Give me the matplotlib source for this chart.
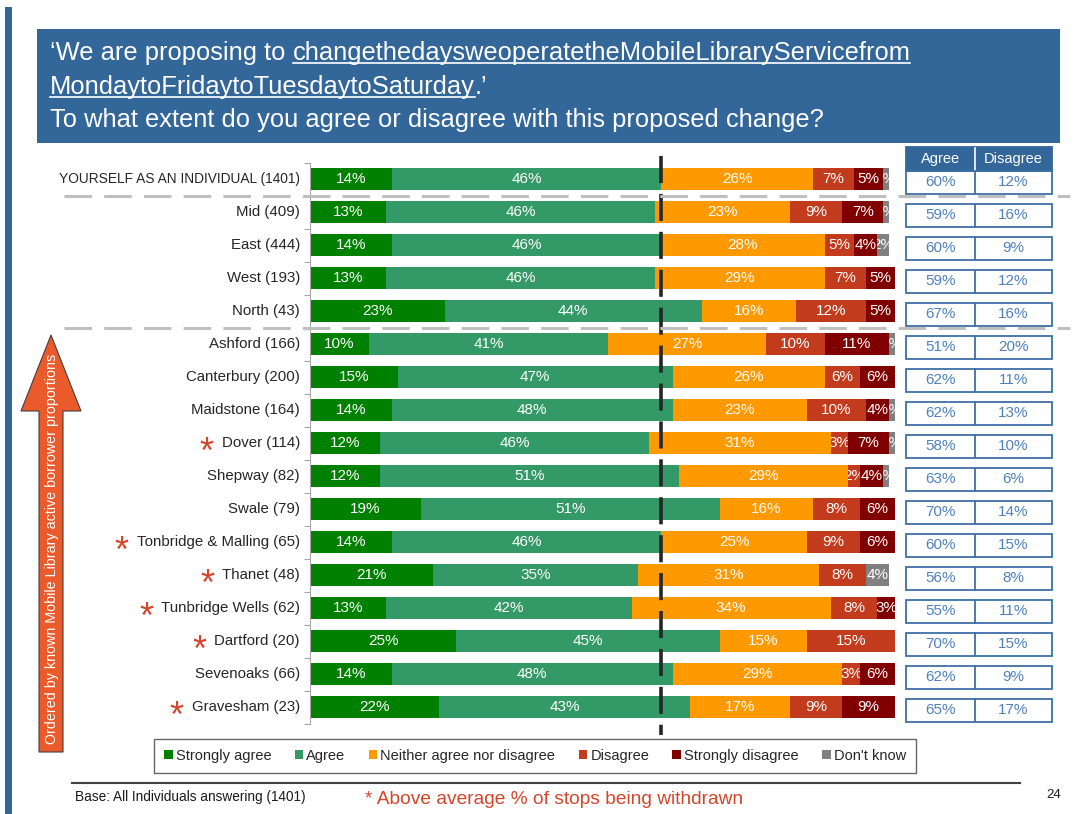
import matplotlib
matplotlib.use("Agg")
import matplotlib.pyplot as plt
import numpy as np
from matplotlib.lines import Line2D
from matplotlib.patches import Patch, Polygon, Rectangle
from matplotlib.transforms import Bbox, IdentityTransform, TransformedBbox

plt.rcParams["font.family"] = ["Liberation Sans", "DejaVu Sans"]

W, H = 1078, 814
BLUE = "#336699"; INK = "#262626"; STAR_RED = "#d4452a"; TABLE_TXT = "#4f81bd"
SERIES_COLORS = ["#008000", "#339966", "#ff9900", "#c23b1d", "#800000", "#808080"]
SERIES_NAMES = ["Strongly agree", "Agree", "Neither agree nor disagree",
                "Disagree", "Strongly disagree", "Don't know"]

# Survey responses (%), top row first.
categories = ["YOURSELF AS AN INDIVIDUAL (1401)", "Mid (409)", "East (444)", "West (193)",
              "North (43)", "Ashford (166)", "Canterbury (200)", "Maidstone (164)",
              "Dover (114)", "Shepway (82)", "Swale (79)", "Tonbridge & Malling (65)",
              "Thanet (48)", "Tunbridge Wells (62)", "Dartford (20)", "Sevenoaks (66)",
              "Gravesham (23)"]
starred = [False, False, False, False, False, False, False, False,
           True, False, False, True, True, True, True, False, True]
strongly_agree = [14, 13, 14, 13, 23, 10, 15, 14, 12, 12, 19, 14, 21, 13, 25, 14, 22]
agree = [46, 46, 46, 46, 44, 41, 47, 48, 46, 51, 51, 46, 35, 42, 45, 48, 43]
neither = [26, 23, 28, 29, 16, 27, 26, 23, 31, 29, 16, 25, 31, 34, 15, 29, 17]
disagree = [7, 9, 5, 7, 12, 10, 6, 10, 3, 2, 8, 9, 8, 8, 15, 3, 9]
strongly_disagree = [5, 7, 4, 5, 5, 11, 6, 4, 7, 4, 6, 6, 0, 3, 0, 6, 9]
dont_know = [1, 1, 2, 0, 0, 1, 1, 1, 1, 1, 0, 0, 4, 0, 0, 0, 0]
agree_total = [60, 59, 60, 59, 67, 51, 62, 62, 58, 63, 70, 60, 56, 55, 70, 62, 65]
disagree_total = [12, 16, 9, 12, 16, 20, 11, 13, 10, 6, 14, 15, 8, 11, 15, 9, 17]
overall_agree = 60


def fx(px):
    return px / W


def fy(py):
    return 1 - py / H


fig = plt.figure(figsize=(W / 100, H / 100), dpi=100)
fig.patch.set_facecolor("white")

# left page rule and title banner
fig.add_artist(Rectangle((fx(5), fy(814)), 7 / W, 807 / H, transform=fig.transFigure,
                         fc=BLUE, ec="none"))
fig.add_artist(Rectangle((fx(37), fy(143)), (1060 - 37) / W, (143 - 29) / H,
                         transform=fig.transFigure, fc=BLUE, ec="none"))

renderer = fig.canvas.get_renderer()
TITLE_SIZE = 18.4


def text_width(s, size):
    t = fig.text(0, 0, s, fontsize=size)
    w = t.get_window_extent(renderer).width
    t.remove()
    return w


space_w = text_width("a a", TITLE_SIZE) - text_width("aa", TITLE_SIZE)


def draw_runs(x, baseline, runs):
    """Title line made of plain / underlined runs; runs flagged with a gap get a space before."""
    for text, under, gap in runs:
        if gap:
            x += space_w
        t = fig.text(fx(x), fy(baseline), text, ha="left", va="baseline",
                     color="white", fontsize=TITLE_SIZE)
        bb = t.get_window_extent(renderer)
        if under:
            fig.add_artist(Line2D([fx(bb.x0), fx(bb.x1)], [fy(baseline + 3)] * 2,
                                  transform=fig.transFigure, color="white", lw=1.2))
        x = bb.x1


draw_runs(50, 60, [("\u2018We are proposing to", False, False),
                   ("changethedaysweoperatetheMobileLibraryServicefrom", True, True)])
draw_runs(50, 94, [("MondaytoFridaytoTuesdaytoSaturday", True, False),
                   (".\u2019", False, False)])
draw_runs(50, 127, [("To what extent do you agree or disagree with this proposed change?", False, False)])

# stacked bars
ax = fig.add_axes([fx(310), fy(723.5), (895 - 310) / W, (723.5 - 162.5) / H])
n = len(categories)
y = np.arange(n)
series = [strongly_agree, agree, neither, disagree, strongly_disagree, dont_know]
left = np.zeros(n)
for vals, color in zip(series, SERIES_COLORS):
    vals = np.array(vals, dtype=float)
    ax.barh(y, vals, left=left, height=0.67, color=color, zorder=2)
    for i in range(n):
        v = vals[i]
        if v <= 0:
            continue
        # labels are cut to their own segment, so thin slices show only a fragment
        t = ax.text(left[i] + v / 2, i, f"{int(v)}%", ha="center", va="center",
                    color="white", fontsize=11, zorder=5, clip_on=True)
        t.set_clip_box(TransformedBbox(Bbox([[left[i], i - 0.4], [left[i] + v, i + 0.4]]),
                                       ax.transData))
    left += vals

ax.set_xlim(0, 100)
ax.set_ylim(n - 0.5, -0.5)
for side in ("top", "right", "bottom"):
    ax.spines[side].set_visible(False)
ax.spines["left"].set_color("#a6a6a6")
ax.set_xticks([])
ax.set_yticks(np.arange(-0.5, n, 1))
ax.set_yticklabels([])
ax.tick_params(axis="y", length=4, color="#a6a6a6", direction="out")
ax.set_facecolor("none")

# overall-agree marker
ax.plot([overall_agree, overall_agree], [-0.7, n - 0.15], color=INK, lw=2.6,
        ls=(0, (7.5, 3)), zorder=4, clip_on=False)

labels = []
for i, cat in enumerate(categories):
    lab = ax.annotate(cat, xy=(0, i), xycoords=("axes fraction", "data"), xytext=(-10, 0),
                      textcoords="offset pixels", ha="right", va="center",
                      fontsize=9.9 if i == 0 else 10.8, color=INK)
    labels.append(lab)

# group separators
for yy in (195.5, 327.5):
    fig.add_artist(Line2D([fx(64), fx(1070)], [fy(yy)] * 2, transform=fig.transFigure,
                          color="#bfbfbf", lw=2.2, ls=(0, (9, 4))))

# agree / disagree summary table
tax = fig.add_axes([fx(906), fy(723.5), (1052 - 906) / W, (723.5 - 162.5) / H])
tax.set_xlim(0, 1)
tax.set_ylim(n - 0.5, -0.5)
tax.axis("off")
div = 69 / 146
tax.add_patch(Rectangle((0, -0.97), 1, 0.73, fc=BLUE, ec=BLUE, lw=1.3, clip_on=False))
tax.plot([div, div], [-0.95, -0.26], color="white", lw=1.2, clip_on=False)
tax.text(div / 2, -0.6, "Agree", ha="center", va="center", color="white", fontsize=10.5)
tax.text((1 + div) / 2, -0.6, "Disagree", ha="center", va="center", color="white", fontsize=10.5)
for i in range(n):
    tax.add_patch(Rectangle((0, i - 0.24), 1, 0.68, fill=False, ec="#3e6fa6", lw=1.3,
                            clip_on=False))
    tax.plot([div, div], [i - 0.24, i + 0.44], color="#3e6fa6", lw=1.3, clip_on=False)
    tax.text(div / 2, i + 0.1, f"{agree_total[i]}%", ha="center", va="center",
             color=TABLE_TXT, fontsize=11)
    tax.text((1 + div) / 2, i + 0.1, f"{disagree_total[i]}%", ha="center", va="center",
             color=TABLE_TXT, fontsize=11)

# ordering arrow
arrow_px = [(39, 752), (39, 411), (21, 411), (51, 335), (81, 411), (63, 411), (63, 752)]
fig.add_artist(Polygon([(fx(px), fy(py)) for px, py in arrow_px], closed=True,
                       transform=fig.transFigure, fc="#ea5a2b", ec="#404040", lw=0.8))
fig.text(fx(52), fy(549), "Ordered by known Mobile Library active borrower proportions",
         rotation=90, ha="center", va="center", color="white", fontsize=10.3)

# legend
handles = [Patch(fc=c, ec="none") for c in SERIES_COLORS]
leg = fig.legend(handles, SERIES_NAMES, ncol=6, loc="center",
                 bbox_to_anchor=(fx(535), fy(756)), frameon=True, fancybox=False,
                 edgecolor="#404040", fontsize=10.5, handlelength=0.6, handleheight=0.6,
                 handletextpad=0.2, columnspacing=1.6, borderpad=0.7)
leg.get_frame().set_linewidth(1.0)
for t in leg.get_texts():
    t.set_color(INK)

# footer
fig.add_artist(Line2D([fx(72), fx(1020)], [fy(783)] * 2, transform=fig.transFigure,
                      color="#404040", lw=1.5))
fig.text(fx(75), fy(797), "Base: All Individuals answering (1401)", ha="left", va="center",
         fontsize=9.8, color="#1a1a1a")
fig.text(fx(365), fy(799), "* Above average % of stops being withdrawn", ha="left",
         va="center", fontsize=13.8, color=STAR_RED)
fig.text(fx(1046), fy(795), "24", ha="left", va="center", fontsize=9.5, color="#1a1a1a")

# asterisks for districts with above-average withdrawals
fig.canvas.draw()
STAR_SIZE = 26
for i, lab in enumerate(labels):
    if not starred[i]:
        continue
    bb = lab.get_window_extent(renderer)
    cy = ax.transData.transform((0, i))[1]
    base = cy - 0.56 * STAR_SIZE * 100 / 72
    fig.text(bb.x0 - 8, base, "*", transform=IdentityTransform(), ha="right",
             va="baseline", fontsize=STAR_SIZE, color=STAR_RED)

fig.savefig("out.png", dpi=100)
